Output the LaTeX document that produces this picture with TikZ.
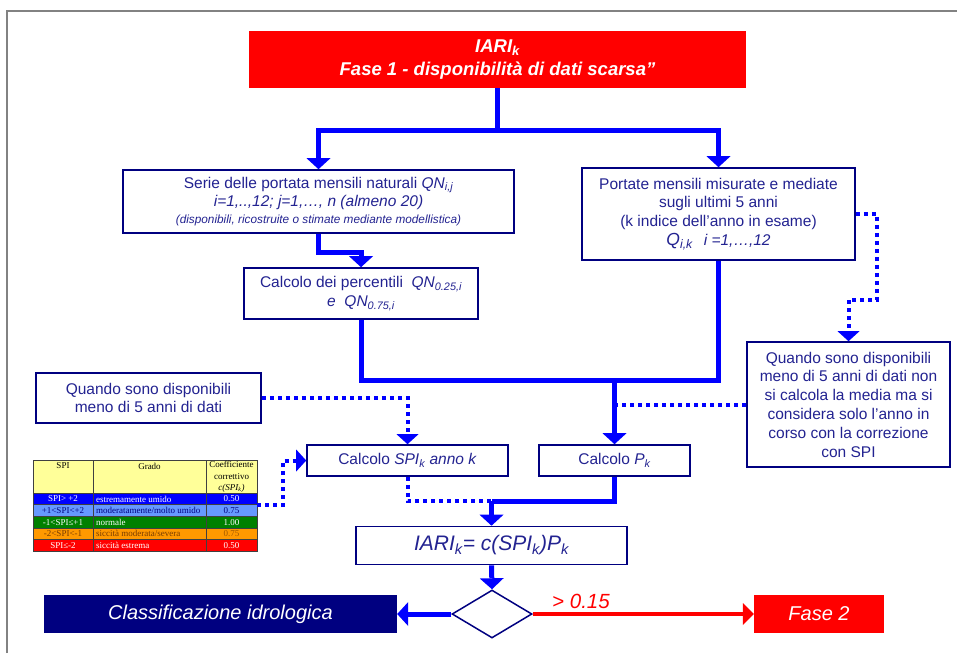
\documentclass[tikz,border=0pt]{standalone}
\usepackage{fontspec}
\setmainfont{Liberation Sans}
\newfontfamily\tms{Liberation Serif}
\usetikzlibrary{arrows.meta,shapes.geometric}
\definecolor{nv}{RGB}{0,0,128}
\definecolor{tx}{RGB}{35,35,145}
\definecolor{bl}{RGB}{0,0,255}
\definecolor{ylw}{RGB}{255,255,153}
\definecolor{lbl}{RGB}{102,153,255}
\definecolor{grn}{RGB}{0,128,0}
\definecolor{org}{RGB}{255,153,0}
\definecolor{brn}{RGB}{120,60,0}
\definecolor{frm}{RGB}{130,130,130}
\begin{document}
\begin{tikzpicture}[x=1pt,y=-1pt,
  bx/.style={draw=nv,line width=1.6pt,fill=white,text=tx,align=center,inner sep=0pt,
    font=\fontsize{15.5}{18.8}\selectfont},
  ln/.style={draw=bl,line width=5pt},
  arr/.style={ln,-{Triangle[width=24pt,length=11pt,line width=0pt]}},
  dl/.style={draw=bl,line width=4pt,dash pattern=on 4pt off 4pt},
  darr/.style={dl,-{Triangle[width=22pt,length=10pt,line width=0pt]}},
  rarr/.style={draw=red,line width=4pt,-{Triangle[width=22pt,length=11pt,line width=0pt]}},
  tc/.style={inner sep=0pt,font=\tms\fontsize{9}{11.5}\selectfont},
]
\useasboundingbox (0,0) rectangle (957,653);
% frame
\draw[frm,line width=1.5pt] (7,653) -- (7,11) -- (957,11);

% title
\node[fill=red,text=white,minimum width=497pt,minimum height=57pt,inner sep=0pt,align=center,
  font=\fontsize{18.5}{23}\selectfont\bfseries\itshape] (T) at (497.5,59.5)
  {IARI\textsubscript{k}\\Fase 1 - disponibilità di dati scarsa”};

% boxes
\node[bx,minimum width=391pt,minimum height=63pt] (A) at (318.5,201.5)
  {Serie delle portata mensili naturali \textit{QN\textsubscript{i,j}}\\
   \textit{i=1,..,12; j=1,…, n (almeno 20)}\\[-2pt]
   {\fontsize{11.8}{13}\selectfont\itshape(disponibili, ricostruite o stimate mediante modellistica)}};
\node[bx,minimum width=273pt,minimum height=92pt] (B) at (718.5,214)
  {Portate mensili misurate e mediate\\sugli ultimi 5 anni\\(k indice dell’anno in esame)\\
   \textit{{\fontsize{17.5}{19}\selectfont Q\textsubscript{i,k}}\hspace{11pt}i =1,…,12}};
\node[bx,minimum width=234pt,minimum height=51pt] (C) at (361,293.5)
  {Calcolo dei percentili~~\textit{QN\textsubscript{0.25,i}}\\\textit{e~~QN\textsubscript{0.75,i}}};
\node[bx,minimum width=203pt,minimum height=125pt] (D) at (848.5,404.5)
  {Quando sono disponibili\\meno di 5 anni di dati non\\si calcola la media ma si\\considera solo l’anno in\\corso con la correzione\\con SPI};
\node[bx,minimum width=225pt,minimum height=50pt] (E) at (148.5,398)
  {Quando sono disponibili\\meno di 5 anni di dati};
\node[bx,minimum width=201pt,minimum height=31pt] (F) at (407.5,460.5)
  {Calcolo \textit{SPI\textsubscript{k} anno k}};
\node[bx,minimum width=151pt,minimum height=31pt] (G) at (614.5,460.5)
  {Calcolo \textit{P\textsubscript{k}}};
\node[bx,minimum width=271pt,minimum height=38pt,font=\fontsize{21}{24}\selectfont] (H) at (491.5,545.5)
  {\textit{IARI\textsubscript{k}= c(SPI\textsubscript{k})P\textsubscript{k}}};
\node[diamond,draw=nv,line width=1.5pt,fill=white,minimum width=80pt,minimum height=48pt,
  inner sep=0pt,aspect=1.667] (Dm) at (492,614) {};
\node[fill=nv,text=white,minimum width=353pt,minimum height=38pt,inner sep=0pt,
  font=\fontsize{20}{24}\selectfont\itshape] (N) at (220.5,614) {Classificazione idrologica};
\node[fill=red,text=white,minimum width=130pt,minimum height=38pt,inner sep=0pt,
  font=\fontsize{20}{24}\selectfont\itshape] (F2) at (819,614) {Fase 2};
\node[text=red,inner sep=0pt,font=\fontsize{20.5}{24}\selectfont\itshape] (lab) at (581,601) {> 0.15};

% table
\fill[ylw] (33,460) rectangle (257,493);
\fill[bl] (33,493) rectangle (257,504.6);
\fill[lbl] (33,504.6) rectangle (257,516.2);
\fill[grn] (33,516.2) rectangle (257,527.8);
\fill[org] (33,527.8) rectangle (257,539.4);
\fill[red] (33,539.4) rectangle (257,551);
\draw[black!75,line width=0.8pt] (33,460) rectangle (257,551);
\draw[black!75,line width=0.8pt] (93,460) -- (93,551) (206,460) -- (206,551);
\draw[black!75,line width=0.6pt] (33,493) -- (257,493) (33,504.6) -- (257,504.6) (33,516.2) -- (257,516.2)
  (33,527.8) -- (257,527.8) (33,539.4) -- (257,539.4);
\node[tc] (h1) at (63,466) {SPI};
\node[tc] (h2) at (149.5,466) {Grado};
\node[tc,align=center] (h3) at (231.5,477) {Coefficiente\\correttivo\\\textit{c(SPI\textsubscript{k})}};
\node[tc,text=white] (r11) at (63,499) {SPI> +2};
\node[tc,text=white,anchor=west] (r12) at (96,499) {estremamente umido};
\node[tc,text=white] (r13) at (231.5,499) {0.50};
\node[tc,text=nv] (r21) at (63,510.6) {+1<SPI<+2};
\node[tc,text=nv,anchor=west] (r22) at (96,510.6) {moderatamente/molto umido};
\node[tc,text=nv] (r23) at (231.5,510.6) {0.75};
\node[tc,text=white] (r31) at (63,522.2) {-1<SPI≤+1};
\node[tc,text=white,anchor=west] (r32) at (96,522.2) {normale};
\node[tc,text=white] (r33) at (231.5,522.2) {1.00};
\node[tc,text=brn] (r41) at (63,533.8) {-2<SPI<-1};
\node[tc,text=brn,anchor=west] (r42) at (96,533.8) {siccità moderata/severa};
\node[tc,text=brn!70!org] (r43) at (231.5,533.8) {0.75};
\node[tc,text=white] (r51) at (63,545.4) {SPI≤-2};
\node[tc,text=white,anchor=west] (r52) at (96,545.4) {siccità estrema};
\node[tc,text=white] (r53) at (231.5,545.4) {0.50};
\coordinate (tr) at (257,505);

% connectors
\coordinate (split) at (497.5,130);
\draw[ln] (T.south) -- (split);
\draw[arr] (split) -| (A.north);
\draw[arr] (split) -| (B.north);
\coordinate (ac) at (361,252);
\draw[arr] (A.south) |- (ac) -- (C.north);
\coordinate (m1) at (614.5,380);
\draw[ln] (C.south) |- (m1);
\draw[ln] (B.south) |- (m1);
\draw[arr] (m1) -- (G.north);
\coordinate (bd1) at (877,300);
\draw[darr] (B.east) -| (bd1) -| (D.north);
\draw[dl] (D.west) -- (D.west -| m1);
\draw[darr] (E.east) -| (F.north);
\coordinate (tb) at (283,505);
\draw[darr] (tr) -- (tb) |- (F.west);
\coordinate (m2) at (491.5,501);
\draw[dl] (F.south) |- (m2);
\draw[ln] (G.south) |- (m2);
\draw[arr] (m2) -- (H.north);
\draw[arr] (H.south) -- (Dm.north);
\draw[arr] (Dm.west) -- (N.east);
\draw[rarr] (Dm.east) -- (F2.west);
\end{tikzpicture}
\end{document}
